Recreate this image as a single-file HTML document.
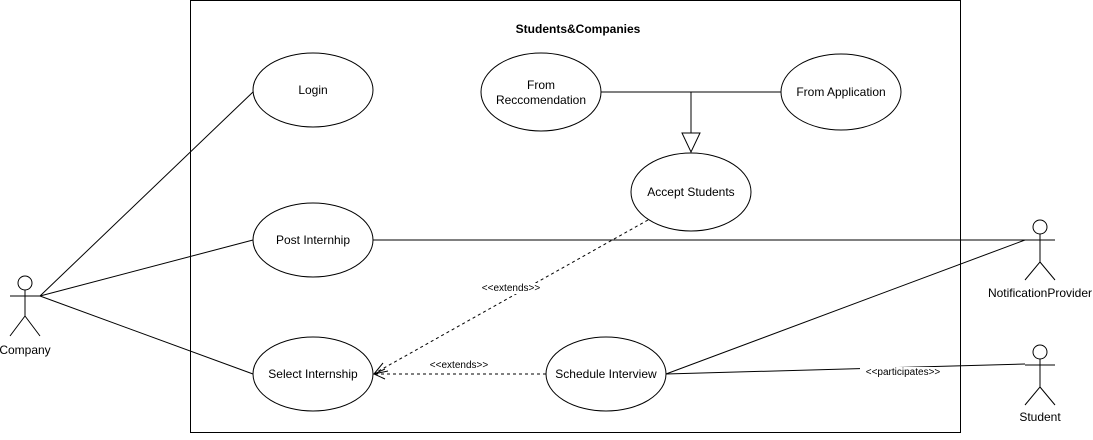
<!DOCTYPE html>
<html><head><style>body{margin:0;background:#fff}</style></head><body>
<svg width="1093" height="435" xmlns="http://www.w3.org/2000/svg" font-family="Liberation Sans, Arial, sans-serif" font-size="12" stroke-width="1">
<rect x="190.5" y="0.5" width="770" height="432" fill="#fff" stroke="#000"/>
<text x="578" y="33" text-anchor="middle" font-weight="bold">Students&amp;Companies</text>
<g stroke="#000" fill="none">
<line x1="40" y1="296" x2="253" y2="92"/>
<line x1="40" y1="296" x2="253" y2="240"/>
<line x1="40" y1="296" x2="253" y2="374"/>
<line x1="373" y1="240" x2="1040" y2="240"/>
<line x1="666" y1="374" x2="1025" y2="240"/>
<line x1="666" y1="374" x2="1025" y2="364"/>
<line x1="601" y1="92" x2="781" y2="92"/>
<line x1="691" y1="92" x2="691" y2="133"/>
<polygon points="682,133 700,133 691,152" fill="#fff"/>
<line x1="648" y1="220" x2="375" y2="373" stroke-dasharray="3,3"/>
<polyline points="383,363 374,374 388,371"/>
<line x1="546" y1="374" x2="375" y2="374" stroke-dasharray="3,3"/>
<polyline points="385,369 374,374 385,379"/>
</g>
<g fill="#fff" stroke="#000">
<ellipse cx="313" cy="90" rx="60" ry="37"/>
<ellipse cx="541" cy="92" rx="60" ry="39"/>
<ellipse cx="841" cy="92" rx="60" ry="38"/>
<ellipse cx="691" cy="192" rx="60" ry="39"/>
<ellipse cx="313" cy="240" rx="60" ry="37"/>
<ellipse cx="313" cy="374" rx="60" ry="37"/>
<ellipse cx="606" cy="374" rx="60" ry="37"/>
</g>
<g text-anchor="middle" fill="#000">
<text x="313" y="94">Login</text>
<text x="541" y="89">From</text><text x="541" y="104">Reccomendation</text>
<text x="841" y="96">From Application</text>
<text x="691" y="196">Accept Students</text>
<text x="313" y="244">Post Internhip</text>
<text x="313" y="378">Select Internship</text>
<text x="606" y="378">Schedule Interview</text>
<text x="25" y="354">Company</text>
<text x="1040" y="297">NotificationProvider</text>
<text x="1040" y="421">Student</text>
</g>
<g font-size="10" text-anchor="middle">
<rect x="476" y="283" width="70" height="11" fill="#fff"/>
<text x="511" y="291">&lt;&lt;extends&gt;&gt;</text>
<text x="459" y="368">&lt;&lt;extends&gt;&gt;</text>
<rect x="860" y="367" width="86" height="11" fill="#fff"/>
<text x="903" y="375">&lt;&lt;participates&gt;&gt;</text>
</g>
<g stroke="#000" fill="#fff">
<circle cx="25" cy="283" r="7"/>
<path d="M10 296H40M25 290V316L10 336M25 316L40 336" fill="none"/>
<circle cx="1040" cy="227" r="7"/>
<path d="M1025 240H1055M1040 234V262L1025 280M1040 262L1055 280" fill="none"/>
<circle cx="1040" cy="352" r="7"/>
<path d="M1025 365H1055M1040 359V387L1025 405M1040 387L1055 405" fill="none"/>
</g>
</svg>
</body></html>
